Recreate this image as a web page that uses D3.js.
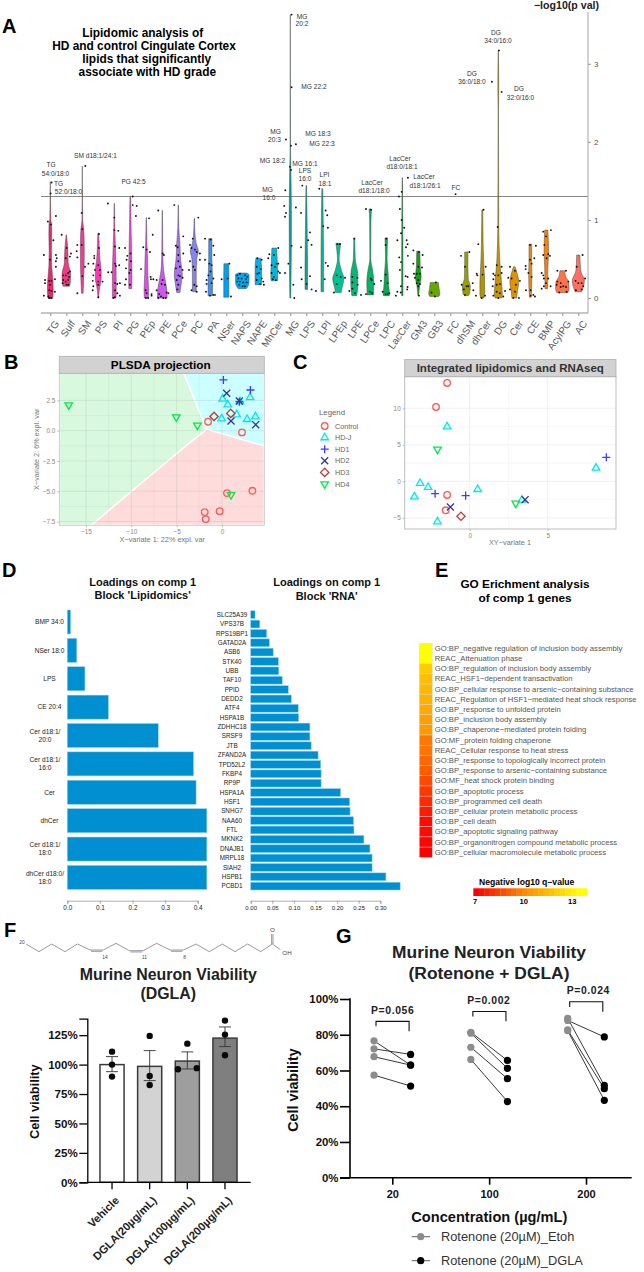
<!DOCTYPE html>
<html>
<head>
<meta charset="utf-8">
<script src="https://cdn.jsdelivr.net/npm/d3@7"></script>
<style>
  body { margin: 0; background: #fff; }
  svg { display: block; }
  text { font-family: "Liberation Sans", Arial, sans-serif; }
</style>
</head>
<body>
<div id="chart"></div>
<script>
// ---- panel A: lipid classes, violin outlines [value, half width], points [jitter, value]
const lipidClasses = ["TG","Sulf","SM","PS","PI","PG","PEp","PE","PCe","PC","PA","NSer","NAPS","NAPE","MhCer","MG","LPS","LPI","LPEp","LPE","LPCe","LPC","LacCer","GM3","GB3","FC","dhSM","dhCer","DG","Cer","CE","BMP","AcylPG","AC"];
const lipidColors = ["#e8286e","#f23a85","#f7379c","#f93cb4","#f53fc8","#ee45dc","#e04ee8","#cc58f0","#a970f0","#8684ee","#3f8ff0","#00a0f0","#00aaf0","#00b0e8","#00b8d8","#00a0a0","#00a898","#00b8a0","#00c098","#00b878","#00b468","#00ae50","#00982c","#14a010","#64a800","#888800","#98a000","#b09400","#c89400","#dc9400","#ec8c10","#ff8000","#ff7448","#ff6e62"];
const lipidViolins = [
  [[1.49,0],[1.3,.01],[1,.03],[.95,.08],[.8,.09],[.6,.07],[.4,.09],[.2,.17],[.1,.18],[0,.15]],
  [[.81,.01],[.6,.1],[.45,.12],[.3,.27],[.2,.25],[.15,.2]],
  [[1.69,0],[1,.02],[.9,.08],[.7,.12],[.5,.12],[.3,.1],[.06,.05]],
  [[.83,.03],[.7,.05],[.5,.1],[.35,.18],[.25,.18],[.1,.06],[0,.02]],
  [[1.21,.01],[.9,.03],[.6,.08],[.4,.11],[.2,.12],[.05,.12],[0,.1]],
  [[1.3,.02],[.9,.05],[.6,.08],[.4,.1],[.2,.1],[.12,.09]],
  [[1.03,.01],[.7,.04],[.5,.08],[.3,.1],[.1,.14],[0,.13]],
  [[1.12,.01],[.6,.03],[.4,.06],[.3,.12],[.15,.25],[.05,.3],[0,.3]],
  [[1.19,.01],[.9,.03],[.7,.1],[.5,.14],[.3,.25],[.18,.18],[.07,.1]],
  [[1.02,.01],[.8,.05],[.7,.12],[.6,.25],[.5,.15],[.3,.12],[.1,.12],[.08,.1]],
  [[.76,.1],[.5,.1],[.3,.13],[.1,.14],[.03,.14]],
  [[.44,.15],[.3,.16],[.1,.16],[.01,.16]],
  [[.32,.25],[.3,.42],[.2,.42],[.12,.25],[.12,.1]],
  [[.51,.15],[.4,.2],[.25,.2],[.17,.2]],
  [[.64,.15],[.4,.2],[.3,.22],[.22,.2]],
  [[3.63,0],[1.95,.01],[1.6,.04],[1,.07],[.5,.06],[0,.03]],
  [[1.44,.02],[.8,.06],[.4,.08],[.11,.08]],
  [[1.4,.03],[.8,.07],[.4,.08],[.08,.08]],
  [[.7,.15],[.62,.1],[.5,.05],[.35,.2],[.25,.35],[.1,.2],[.07,.18]],
  [[.77,.03],[.5,.06],[.3,.22],[.2,.22],[.07,.18],[.03,.15]],
  [[1.14,.08],[1,.04],[.5,.03],[.35,.15],[.2,.22],[.07,.2],[.04,.2]],
  [[.77,.08],[.5,.05],[.3,.12],[.15,.15],[.05,.2],[.03,.18]],
  [[1.54,.01],[1,.03],[.5,.04],[.03,.04]],
  [[.6,.1],[.4,.12],[.27,.18],[.15,.08],[.03,.03]],
  [[.2,.25],[.12,.3],[.05,.35],[.02,.28]],
  [],
  [[.59,.1],[.4,.1],[.25,.12],[.15,.25],[.05,.2],[.03,.12]],
  [[1.13,.03],[.7,.05],[.4,.1],[.2,.15],[.05,.15],[0,.1]],
  [[3.17,.005],[2.7,.03],[2.4,.01],[.9,.03],[.45,.1],[.2,.2],[.05,.25],[0,.2]],
  [[.4,.05],[.3,.2],[.2,.28],[.1,.2],[0,.15]],
  [[.69,.08],[.5,.08],[.3,.1],[.1,.08],[.01,.05]],
  [[.87,.1],[.6,.14],[.4,.1],[.12,.08]],
  [[.35,.15],[.28,.2],[.2,.4],[.12,.42],[.07,.35]],
  [[.55,.1],[.35,.15],[.22,.38],[.15,.32],[.08,.2]]
];
const lipidPoints = [
  [[-.4,.55],[.35,1.05],[.02,1.34],[.08,1.48],[-.15,.98],[.04,.94],[.35,.55],[.4,.51],[.35,.47],[.35,.4],[.19,.74],[-.02,.49],[-.33,.23],[-.33,.19],[-.06,.22],[.08,.22],[.29,.24],[-.02,.17],[.29,.08],[-.4,.03],[-.06,.1],[.08,.09],[-.12,.02],[-.02,0],[.08,0],[-.08,0]],
  [[-.29,.81],[.02,.64],[.29,.57],[.23,.53],[-.04,.51],[.23,.34],[.12,.32],[-.19,.29],[-.02,.29],[.17,.27],[-.19,.23],[-.04,.21],[.12,.23],[-.23,.19],[.02,.17],[.12,.17]],
  [[.19,1.69],[-.04,1.09],[-.35,.6],[-.31,.52],[-.04,.68],[.38,.44],[.17,.4],[0,.28],[-.31,.06],[0,.88],[-.31,.68]],
  [[.04,.82],[-.25,.54],[-.25,.51],[-.31,.44],[.04,.64],[0,.42],[.1,.36],[-.21,.36],[-.31,.29],[.1,.29],[-.35,.22],[0,.21],[.27,.21],[0,.17],[-.31,.15],[-.35,.1],[0,.01]],
  [[-.4,1.21],[0,1.03],[0,.87],[.25,.86],[.04,.66],[.31,.64],[.04,.44],[.1,.41],[.31,.42],[-.17,.33],[-.38,.33],[.04,.19],[.35,.19],[.19,.18],[.04,.1],[.19,.06],[.35,.03],[-.06,0],[.04,.01]],
  [[.15,1.3],[.15,1.19],[.4,1.18],[.35,1.05],[-.33,.64],[.02,.57],[-.19,.54],[-.23,.49],[.04,.47],[-.27,.38],[.02,.36],[-.06,.32],[-.27,.24],[-.33,.17],[-.02,.17]],
  [[.17,1.02],[-.19,.65],[.4,.81],[.02,.62],[.23,.59],[-.33,.37],[.27,.27],[.44,.24],[-.04,.1],[.02,.06],[.33,.05],[.33,.03],[-.02,0],[.12,0]],
  [[-.25,1.12],[.02,.57],[.1,.55],[-.35,.23],[-.71,.24],[.02,.23],[.17,.17],[-.04,.18],[-.35,.1],[-.19,.05],[.27,.07],[.38,.06],[-.08,.02],[.06,0],[-.25,0],[.21,0]],
  [[-.25,1.19],[.31,.79],[-.15,.67],[-.04,.65],[.31,.57],[0,.55],[0,.47],[.1,.4],[-.15,.38],[.27,.36],[0,.29],[.1,.28],[.27,.26],[-.1,.23],[0,.17],[-.06,.11]],
  [[.25,1.03],[-.1,.76],[-.27,.68],[-.17,.64],[.04,.62],[.15,.59],[.35,.57],[-.27,.47],[.35,.49],[-.06,.4],[.04,.36],[-.33,.36],[0,.17],[.15,.15],[-.17,.1],[.15,.08]],
  [[-.33,.76],[-.33,.49],[.02,.75],[.19,.67],[.25,.55],[-.06,.44],[.08,.42],[.02,.34],[-.12,.29],[.19,.25],[-.23,.23],[.08,.19],[-.23,.18],[-.27,.08],[.19,.04],[-.02,.03],[.29,.04]],
  [[.19,.44],[.08,.25],[-.29,.24],[.29,.02]],
  [[-.31,.29],[-.15,.31],[.17,.29],[.31,.27],[-.25,.25],[-.04,.25],[.23,.24],[-.31,.21],[-.15,.21],[.06,.2],[.27,.2],[-.19,.17],[.02,.15],[.17,.15]],
  [[-.06,.51],[.21,.49],[-.1,.4],[.15,.37],[.06,.32],[-.06,.31],[.21,.25],[-.1,.23],[.31,.21],[.1,.18],[.35,.17]],
  [[.25,.64],[-.31,.56],[-.38,.51],[-.02,.55],[.15,.44],[.25,.44],[-.17,.42],[.04,.4],[.25,.34],[-.17,.32],[-.02,.27],[.1,.23],[-.1,.24],[.35,.32]],
  [[.08,3.63],[.08,2.7],[-.27,2.03],[.35,1.97],[.04,1.95],[-.02,1.68],[.04,1.64],[-.31,1.38],[-.38,1.18],[-.27,1.09],[-.33,1.04],[.35,1.16],[.08,.67],[-.12,.44],[.19,.17],[.25,0],[-.33,.32]],
  [[-.25,1.44],[-.33,1.09],[.23,.84],[.12,.74],[.33,.68],[-.33,.65],[-.33,.39],[-.29,.24],[.23,.28],[.02,.18],[.33,.11],[.6,.09]],
  [[-.19,1.4],[.21,1.12],[.31,1.06],[.06,.92],[.35,.9],[.21,.45],[.35,.41],[.15,.24]],
  [[-.06,.69],[.1,.69],[-.1,.29],[.15,.27],[.42,.26],[-.1,.18],[-.27,.07]],
  [[0,.76],[-.12,.27],[.19,.26],[-.12,.2],[.21,.17],[-.12,.12],[-.31,.09],[.04,.06],[.42,.04]],
  [[-.27,1.14],[.04,1.13],[.04,.25],[.08,.23],[.25,.18],[-.02,.08],[.12,.06],[-.27,.05]],
  [[0,.76],[-.04,.68],[-.04,.3],[-.33,.22],[.08,.19],[-.23,.08],[-.04,.05],[.08,.05],[.19,.06]],
  [[.35,1.54],[-.04,1.36],[-.21,1.3],[-.15,1.14],[-.04,1],[-.08,.83],[.12,.9],[-.31,.74],[.27,.74],[.33,.69],[.23,.65],[-.19,.52],[.35,.54],[-.08,.46],[-.15,.36],[.33,.27],[.21,.28],[-.08,.15],[.33,.14],[.31,.11],[-.31,.08],[-.1,.07],[-.4,.03]],
  [[-.31,.61],[.04,.59],[.27,.55],[-.31,.44],[0,.4],[.23,.39],[-.27,.31],[-.1,.31],[.1,.31],[-.21,.26],[0,.23],[-.1,.19],[.1,.18],[0,.15],[.04,.03]],
  [[.1,.2],[-.17,.07],[.04,.02]],
  [[.33,1.33]],
  [[-.33,.54],[.19,.59],[-.08,.4],[-.29,.17],[.02,.15],[.12,.15],[.4,.19],[-.15,.11],[.44,.1],[-.08,.04]],
  [[.08,1.13],[-.25,.69],[-.35,.31],[-.31,.29],[.21,.4],[.02,.3],[-.4,.03],[-.04,0],[.17,.03]],
  [[.04,3.17],[-.4,2.77],[.21,2.64],[-.04,.91],[-.1,.42],[.21,.4],[-.31,.31],[-.21,.29],[0,.29],[.21,.32],[-.31,.24],[-.1,.17],[.1,.18],[-.35,.15],[.42,.09],[-.1,.08],[.1,.06],[-.31,.03],[0,0],[.31,.02]],
  [[-.27,.4],[.04,.35],[-.38,.26],[-.17,.25],[.35,.22],[.1,.17],[-.27,.11],[.04,.08],[-.06,0],[.29,0]],
  [[-.02,.68],[.35,.67],[-.02,.49],[.25,.51],[-.29,.41],[.08,.44],[-.29,.37],[-.12,.32],[.08,.27],[-.27,.1],[.02,.1],[.19,.04],[.02,.03],[.29,.02]],
  [[.29,.87],[-.19,.85],[-.02,.79],[-.12,.68],[-.19,.55],[.12,.56],[.23,.54],[.02,.51],[-.29,.32],[-.19,.29],[-.15,.25],[.12,.25],[-.02,.19],[-.15,.15],[.27,.15],[-.29,.12]],
  [[-.31,.35],[.23,.35],[-.31,.21],[-.1,.19],[.38,.21],[-.35,.17],[.06,.15],[-.1,.14],[.23,.14],[.27,.08],[-.19,.07]],
  [[.27,.55],[-.1,.4],[-.17,.22],[.42,.25],[0,.19],[.21,.19],[.31,.15],[-.15,.1],[.21,.11]]
];
const pValueTicks = [0, 1, 2, 3];
const significanceLine = 1.3;

// ---- panels B and C: groups and scores
const groupNames = ["Control","HD-J","HD1","HD2","HD3","HD4"];
const groupColors = ["#ff5a5a","#00e6f0","#3c3cff","#34349a","#b83c3c","#00e84a"];
const plsdaScores = [
  [[-1.54,.74],[2.2,-.14],[.55,-5.15],[3.35,-4.96],[-.26,-6.64],[-1.91,-6.72],[-1.8,-7.3]],
  [[.07,2.62],[.63,2.15],[1.99,2.4],[3.09,2.75],[-.04,.99],[1.62,1.32],[2.76,.94],[3.68,1.16]],
  [[.15,4.19],[1.91,2.4],[3.13,3.36]],
  [[.51,3.09],[1.91,2.45],[.99,.8],[3.71,.5]],
  [[-.88,1.18],[.96,1.43]],
  [[-16.9,2.12],[-5.04,1.13],[-2.72,.44],[.99,-5.29]]
];
const integratedScores = [
  [[-1.45,13.47],[-2.16,10.18],[-1.45,-1.87],[-1.54,-3.97]],
  [[-1.45,7.49],[-3.18,-.27],[-2.67,-.82],[-3.55,-2.1],[-2.07,-5.53],[.51,-1.1],[3.35,-2.56],[8.1,1.83]],
  [[-2.22,-1.69],[-.26,-1.96],[8.76,3.29]],
  [[-1.24,-3.52],[3.55,-2.51]],
  [[-.56,-4.79]],
  [[-2.07,4.38],[2.95,-3.01]]
];
const plsdaRegions = [
  {fill:"#d9f9df", pts:[[-17.94,4.74],[-4.19,4.74],[-1.69,.11],[-4.08,-1.32],[-10.33,-5.23],[-14.4,-7.81],[-17.94,-7.81]]},
  {fill:"#ccffff", pts:[[-4.19,4.74],[4.66,4.74],[4.66,-1.27],[.51,-.36],[-1.69,.11]]},
  {fill:"#ffdcdc", pts:[[-1.69,.11],[.51,-.36],[4.66,-1.27],[4.66,-7.81],[-14.4,-7.81],[-10.33,-5.23],[-4.08,-1.32]]}
];

// ---- panel D
const lipidLoadingNames = [["BMP 34:0"],["NSer 18:0"],["LPS"],["CE 20:4"],["Cer d18:1/","20:0"],["Cer d18:1/","16:0"],["Cer"],["dhCer"],["Cer d18:1/","18:0"],["dhCer d18:0/","18:0"]];
const lipidLoadings = [.01,.029,.054,.126,.279,.387,.395,.428,.428,.428];
const geneNames = ["SLC25A39","VPS37B","RPS19BP1","GATAD2A","ASB6","STK40","UBB","TAF10","PPID","DEDD2","ATF4","HSPA1B","ZDHHC18","SRSF9","JTB","ZFAND2A","TPD52L2","FKBP4","RP9P","HSPA1A","HSF1","SNHG7","NAA60","FTL","MKNK2","DNAJB1","MRPL18","SIAH2","HSPB1","PCBD1"];
const geneLoadings = [.01,.021,.037,.043,.052,.064,.065,.073,.087,.094,.11,.111,.137,.137,.14,.156,.162,.163,.163,.208,.229,.23,.238,.239,.262,.276,.281,.281,.313,.346];

// ---- panel E
const goTerms = ["GO:BP_negative regulation of inclusion body assembly","REAC_Attenuation phase","GO:BP_regulation of inclusion body assembly","REAC_HSF1\u2212dependent transactivation","GO:BP_cellular response to arsenic\u2212containing substance","REAC_Regulation of HSF1\u2212mediated heat shock response","GO:BP_response to unfolded protein","GO:BP_inclusion body assembly","GO:BP_chaperone\u2212mediated protein folding","GO:MF_protein folding chaperone","REAC_Cellular response to heat stress","GO:BP_response to topologically incorrect protein","GO:BP_response to arsenic\u2212containing substance","GO:MF_heat shock protein binding","GO:BP_apoptotic process","GO:BP_programmed cell death","GO:BP_cellular protein metabolic process","GO:BP_cell death","GO:BP_apoptotic signaling pathway","GO:BP_organonitrogen compound metabolic process","GO:BP_cellular macromolecule metabolic process"];
const goQValues = [13.5,13.4,11.9,11.5,11.3,11.1,10.9,10.6,10.4,9.6,9.5,9.2,9,8.6,8.2,7.9,7.6,7.2,7.2,7.1,7];
const qLegendSteps = [7,7.33,7.67,8,8.33,8.67,9,9.33,9.67,10,10.33,10.67,11,11.33,11.67,12,12.33,12.67,13,13.33,13.67];
const qLegendTicks = [7,10,13];

// ---- panel F
const viabilityNames = ["Vehicle","DGLA(20\u00b5g/mL)","DGLA(100\u00b5g/mL)","DGLA(200\u00b5g/mL)"];
const viabilityMeans = [100,98.5,103,122.5];
const viabilityErrLow = [94,86.4,96.3,115.3];
const viabilityErrHigh = [106.8,111.9,110.8,132];
const viabilityFills = ["#ffffff","#d3d3d3","#9e9e9e","#7f7f7f"];
const viabilityReplicates = [[[0,111],[0,100],[0,89.8]],[[0,124.4],[0,90.4],[0,82.7]],[[0,117.8],[-.39,96],[.39,97]],[[0,137.4],[0,125.5],[0,108]]];
const viabilityTicks = [0,25,50,75,100,125];

// ---- panel G: paired wells, one row per pair [Etoh, DGLA]
const doseLabels = ["20","100","200"];
const pairedViability = [
  [[76.6,63],[72.1,69],[67.7,63],[57.4,51.3]],
  [[81.4,65.6],[80.9,61.2],[73,55.4],[66.2,42.6]],
  [[88,78.8],[89.2,51.7],[82.7,49.8],[82.3,43.3]]
];
const pairPValues = ["P=0.056","P=0.002","P=0.024"];
const bracketTop = [87.5,93,98.5];
const bracketLeftEnd = [84.7,90.2,95.5];
const bracketRightEnd = [82,87.5,92.8];
const pairTicks = [0,20,40,60,80,100];

// ---- DGLA skeleton, atom positions are the drawing itself, not data
const dglaAtoms = [[33,72],[72,95],[110,72],[150,95],[187,72],[225,90],[265,90],[303,70],[343,92],[385,92],[425,70],[465,90],[505,90],[543,72],[583,95],[622,72],[660,95],[698,72],[737,95],[772,72]];

const svg = d3.select("#chart").append("svg").attr("width", 644).attr("height", 1272);

function label(parent, str, x, y, size, opts) {
  const o = opts || {};
  return parent.append("text")
    .attr("x", x).attr("y", y)
    .attr("font-size", size)
    .attr("font-weight", o.weight || "normal")
    .attr("text-anchor", o.anchor || "start")
    .attr("fill", o.fill || "#000")
    .attr("letter-spacing", o.spacing || null)
    .attr("transform", o.rotate ? `rotate(${o.rotate} ${x} ${y})` : null)
    .text(str);
}

// panel letters
[["A",2,33],["B",4,369],["C",293,369],["D",2,577],["E",435,577],["F",4,937],["G",336,943]].forEach(d => {
  label(svg, d[0], d[1], d[2], 20, {weight:"bold"});
});

function drawLipidViolins() {
  const g = svg.append("g");
  const x = d3.scalePoint().domain(lipidClasses).range([50.3, 578.3]);
  const y = d3.scaleLinear().domain([0, 3]).range([298, 63.8]);
  const step = x.step();

  ["Lipidomic analysis of","HD and control Cingulate Cortex","lipids that significantly","associate with HD grade"].forEach((t, i) => {
    label(g, t, [142.7,144,146.7,147.3][i], [36.7,49.6,63.3,76][i], 11.9, {weight:"bold", anchor:"middle"});
  });
  label(g, "\u2212log10(p val)", 599, 9, 10.6, {weight:"bold", anchor:"end", fill:"#222"});

  const area = d3.area()
    .y(d => y(d[0]))
    .x0(d => -d[1] * step)
    .x1(d => d[1] * step)
    .curve(d3.curveMonotoneY);

  lipidClasses.forEach((c, i) => {
    if (!lipidViolins[i].length) return;
    g.append("path")
      .attr("transform", `translate(${x(c)},0)`)
      .attr("d", area(lipidViolins[i]))
      .attr("fill", lipidColors[i])
      .attr("stroke", "#4a4a4a")
      .attr("stroke-width", 0.5);
  });

  g.append("line")
    .attr("x1", 41).attr("x2", 588)
    .attr("y1", y(significanceLine)).attr("y2", y(significanceLine))
    .attr("stroke", "#555").attr("stroke-width", 0.7);

  lipidClasses.forEach((c, i) => {
    g.selectAll(null).data(lipidPoints[i]).enter().append("circle")
      .attr("cx", d => x(c) + d[0] * step)
      .attr("cy", d => y(d[1]))
      .attr("r", 0.95)
      .attr("fill", "#111");
  });

  // class axis
  const xAxis = g.append("g").attr("transform", "translate(0,313)")
    .call(d3.axisBottom(x).tickSize(3).tickPadding(2));
  xAxis.select(".domain").attr("d", "M41,0H588").attr("stroke", "#b5b5b5").attr("stroke-width", 1.4);
  xAxis.selectAll(".tick line").attr("stroke", "#999");
  xAxis.selectAll(".tick text")
    .attr("font-size", 10).attr("fill", "#5a5a5a").attr("font-family", null)
    .attr("text-anchor", "end")
    .attr("x", 0).attr("y", 0).attr("dy", "0.35em")
    .attr("transform", "translate(6,8.5) rotate(-55)");

  const yAxis = g.append("g").attr("transform", "translate(588,0)")
    .call(d3.axisRight(y).tickValues(pValueTicks).tickSize(3).tickPadding(3).tickFormat(d3.format("d")));
  yAxis.select(".domain").attr("d", "M0,12V313").attr("stroke", "#b5b5b5").attr("stroke-width", 1.2);
  yAxis.selectAll(".tick line").attr("stroke", "#999");
  yAxis.selectAll(".tick text").attr("font-size", 8).attr("fill", "#555").attr("font-family", null);

  // named lipids next to their points
  const names = [
    ["TG",51,167],["54:0/18:0",55.5,175.5],["TG",58.5,186],["52:0/18:0",68.5,194],["SM d18:1/24:1",95.5,158],["PG 42:5",133.5,184],
    ["MG",275.5,134],["20:3",274.5,142],["MG 18:2",272.5,163],["MG",267.5,191.5],["16:0",269,199.5],
    ["MG",302,19],["20:2",302,26],["MG 22:2",314,89],["MG 18:3",318,136],["MG 22:3",322,146],["MG 16:1",305,166],["LPS",305,173],["16:0",305,181],
    ["LPI",324.5,177],["18:1",325,185.5],["LacCer",372,184.5],["d18:1/18:0",374,192.5],["LacCer",400,161],["d18:0/18:1",402,169],["LacCer",424,179],["d18:1/26:1",425,187.5],
    ["FC",456,190],["DG",496,35],["34:0/16:0",498,43],["DG",472,76],["36:0/18:0",472,84],["DG",519,91],["32:0/16:0",520.5,99.5]
  ];
  names.forEach(n => label(g, n[0], n[1], n[2], 6.6, {anchor:"middle", fill:"#333"}));
}

function symbolPath(i) {
  const types = [d3.symbolCircle, d3.symbolTriangle2, d3.symbolPlus, d3.symbolTimes, d3.symbolDiamond2, d3.symbolTriangle2];
  const sizes = [34, 40, 23, 34, 44, 40];
  return d3.symbol().type(types[i]).size(sizes[i])();
}

function drawMarkers(g, i, pts, x, y) {
  g.selectAll(null).data(pts).enter().append("path")
    .attr("d", symbolPath(i))
    .attr("transform", d => `translate(${x(d[0])},${y(d[1])})` + (i === 5 ? " rotate(180)" : ""))
    .attr("fill", "none")
    .attr("stroke", groupColors[i])
    .attr("stroke-width", 1.3);
}

function gridAndFrame(g, x, y, xt, yt, x0, x1, y0, y1, gridColor) {
  const mids = t => t.slice(1).map((d, k) => (d + t[k]) / 2);
  g.selectAll(null).data(mids(xt)).enter().append("line")
    .attr("x1", d => x(d)).attr("x2", d => x(d)).attr("y1", y0).attr("y2", y1)
    .attr("stroke", gridColor).attr("stroke-width", 0.4);
  g.selectAll(null).data(mids(yt)).enter().append("line")
    .attr("y1", d => y(d)).attr("y2", d => y(d)).attr("x1", x0).attr("x2", x1)
    .attr("stroke", gridColor).attr("stroke-width", 0.4);
  g.selectAll(null).data(xt).enter().append("line")
    .attr("x1", d => x(d)).attr("x2", d => x(d)).attr("y1", y0).attr("y2", y1)
    .attr("stroke", gridColor).attr("stroke-width", 0.8);
  g.selectAll(null).data(yt).enter().append("line")
    .attr("y1", d => y(d)).attr("y2", d => y(d)).attr("x1", x0).attr("x2", x1)
    .attr("stroke", gridColor).attr("stroke-width", 0.8);
}

function styleGgAxis(a) {
  a.select(".domain").remove();
  a.selectAll(".tick line").attr("stroke", "#999").attr("stroke-width", 0.6);
  a.selectAll(".tick text").attr("font-size", 6.4).attr("fill", "#888").attr("font-family", null);
}

function drawPlsda() {
  const g = svg.append("g");
  const x = d3.scaleLinear().domain([-17.94, 4.66]).range([59.3, 264.3]);
  const y = d3.scaleLinear().domain([-7.81, 4.74]).range([525.3, 373.3]);
  const line = d3.line().x(d => x(d[0])).y(d => y(d[1]));

  plsdaRegions.forEach(r => {
    g.append("path").attr("d", line(r.pts) + "Z").attr("fill", r.fill)
      .attr("stroke", "#fff").attr("stroke-width", 1.5);
  });
  gridAndFrame(g, x, y, [-15,-10,-5,0], [-7.5,-5,-2.5,0,2.5], 59.3, 264.3, 373.3, 525.3, "rgba(150,170,160,.28)");

  g.append("rect").attr("x", 59.3).attr("y", 373.3).attr("width", 205).attr("height", 152)
    .attr("fill", "none").attr("stroke", "#c4c4c4").attr("stroke-width", 0.8);
  g.append("rect").attr("x", 59.3).attr("y", 356.3).attr("width", 205).attr("height", 17)
    .attr("fill", "#d2d2d2").attr("stroke", "#b0b0b0").attr("stroke-width", 0.8);
  label(g, "PLSDA projection", 160.7, 368.6, 11.8, {weight:"bold", anchor:"middle"});

  groupNames.forEach((n, i) => drawMarkers(g, i, plsdaScores[i], x, y));

  const ax = g.append("g").attr("transform", "translate(0,525.3)")
    .call(d3.axisBottom(x).tickValues([-15,-10,-5,0]).tickSize(2).tickPadding(2).tickFormat(d => d === 0 ? "0" : "\u2212" + Math.abs(d)));
  styleGgAxis(ax);
  const ay = g.append("g").attr("transform", "translate(59.3,0)")
    .call(d3.axisLeft(y).tickValues([-7.5,-5,-2.5,0,2.5]).tickSize(2).tickPadding(2).tickFormat(d => (d < 0 ? "\u2212" : "") + Math.abs(d).toFixed(1)));
  styleGgAxis(ay);

  label(g, "X\u2212variate 1: 22% expl. var", 162.3, 541.5, 7.3, {anchor:"middle", fill:"#777"});
  label(g, "X\u2212variate 2: 6% expl. var", 39.5, 449.3, 7.3, {anchor:"middle", fill:"#777", rotate:-90});
}

function drawIntegrated() {
  const g = svg.append("g");
  const x = d3.scaleLinear().domain([-4.17, 9.38]).range([404.7, 616]);
  const y = d3.scaleLinear().domain([-6.53, 14.33]).range([529, 376.7]);

  gridAndFrame(g, x, y, [0,5], [-5,0,5,10], 404.7, 616, 376.7, 529, "#ececec");
  g.append("rect").attr("x", 404.7).attr("y", 376.7).attr("width", 211.3).attr("height", 152.3)
    .attr("fill", "none").attr("stroke", "#bdbdbd").attr("stroke-width", 1);
  g.append("rect").attr("x", 404.7).attr("y", 359.5).attr("width", 211.3).attr("height", 17.2)
    .attr("fill", "#d2d2d2").attr("stroke", "#b0b0b0").attr("stroke-width", 0.8);
  label(g, "Integrated lipidomics and RNAseq", 510.3, 371.8, 11.5, {weight:"bold", anchor:"middle", fill:"#333"});

  groupNames.forEach((n, i) => drawMarkers(g, i, integratedScores[i], x, y));

  const ax = g.append("g").attr("transform", "translate(0,529)")
    .call(d3.axisBottom(x).tickValues([0,5]).tickSize(2).tickPadding(2));
  styleGgAxis(ax);
  const ay = g.append("g").attr("transform", "translate(404.7,0)")
    .call(d3.axisLeft(y).tickValues([-5,0,5,10]).tickSize(2).tickPadding(2).tickFormat(d => (d < 0 ? "\u2212" : "") + Math.abs(d)));
  styleGgAxis(ay);
  label(g, "XY\u2212variate 1", 510, 545, 7.3, {anchor:"middle", fill:"#777"});

  // legend
  label(g, "Legend", 319, 415, 7.8, {fill:"#666"});
  const rowY = d3.scalePoint().domain(groupNames).range([426, 484]);
  groupNames.forEach((n, i) => {
    const yy = rowY(n);
    g.append("path")
      .attr("d", symbolPath(i))
      .attr("transform", `translate(324.7,${yy})` + (i === 5 ? " rotate(180)" : ""))
      .attr("fill", "none").attr("stroke", groupColors[i]).attr("stroke-width", 1.3);
    label(g, n, 335, yy + 2.5, 7.2, {fill:"#666"});
  });
}

function loadingBars(names, values, xScale, top, bottom, padding) {
  const g = svg.append("g");
  const keys = names.map((d, i) => i);
  const y = d3.scaleBand().domain(keys).range([top, bottom]).paddingInner(padding).paddingOuter(padding / 2);
  g.selectAll("rect").data(values).enter().append("rect")
    .attr("x", xScale(0))
    .attr("y", (d, i) => y(i))
    .attr("width", d => xScale(d) - xScale(0))
    .attr("height", y.bandwidth())
    .attr("fill", "#0090d2")
    .attr("stroke", "#8fcdec")
    .attr("stroke-width", 0.5);
  return {g, y};
}

function drawLoadings() {
  // lipid block
  const xl = d3.scaleLinear().domain([0, .4]).range([67.3, 197.7]);
  const left = loadingBars(lipidLoadingNames, lipidLoadings, xl, 607.8, 891.6, 0.155);
  lipidLoadingNames.forEach((n, i) => {
    const cy = left.y(i) + left.y.bandwidth() / 2;
    if (n.length === 1) {
      label(left.g, n[0], 49.5, cy + 2.3, 6.6, {anchor:"middle", fill:"#222"});
    } else {
      label(left.g, n[0], 45, cy - 1.8, 6.6, {anchor:"middle", fill:"#222"});
      label(left.g, n[1], 45, cy + 6.2, 6.6, {anchor:"middle", fill:"#222"});
    }
  });
  const axl = left.g.append("g").attr("transform", "translate(0,900.7)")
    .call(d3.axisBottom(xl).tickValues([0,.1,.2,.3,.4]).tickSize(3).tickPadding(2).tickFormat(d3.format(".1f")));
  axl.selectAll("path,line").attr("stroke", "#777").attr("stroke-width", 0.6);
  axl.selectAll(".tick text").attr("font-size", 6.4).attr("fill", "#222").attr("font-family", null);
  label(left.g, "Loadings on comp 1", 142.7, 585.8, 11, {weight:"bold", anchor:"middle", fill:"#111"});
  label(left.g, "Block 'Lipidomics'", 142.7, 599.2, 11, {weight:"bold", anchor:"middle", fill:"#111"});

  // gene block
  const xr = d3.scaleLinear().domain([0, .3]).range([250.7, 380.3]);
  const right = loadingBars(geneNames, geneLoadings, xr, 610, 890.8, 0.17);
  geneNames.forEach((n, i) => {
    label(right.g, n, 232, right.y(i) + right.y.bandwidth() / 2 + 2.1, 6.3, {anchor:"middle", fill:"#222"});
  });
  const axr = right.g.append("g").attr("transform", "translate(0,900.7)")
    .call(d3.axisBottom(xr).tickValues([0,.05,.1,.15,.2,.25,.3]).tickSize(3).tickPadding(2).tickFormat(d3.format(".2f")));
  axr.selectAll("path,line").attr("stroke", "#777").attr("stroke-width", 0.6);
  axr.selectAll(".tick text").attr("font-size", 6).attr("fill", "#222").attr("font-family", null);
  label(right.g, "Loadings on comp 1", 326.7, 586, 11, {weight:"bold", anchor:"middle", fill:"#111"});
  label(right.g, "Block 'RNA'", 326.7, 600, 11, {weight:"bold", anchor:"middle", fill:"#111"});
}

function drawEnrichment() {
  const g = svg.append("g");
  const color = d3.scaleLinear().domain([7, 10, 13.4]).range(["#ff0000", "#ff8c00", "#ffff00"]);
  const y = d3.scaleBand().domain(goTerms).range([643.3, 857.3]);

  label(g, "GO Erichment analysis", 525, 587.8, 11.8, {weight:"bold", anchor:"middle"});
  label(g, "of comp 1 genes", 525, 601.5, 11.8, {weight:"bold", anchor:"middle"});

  g.selectAll("rect").data(goTerms).enter().append("rect")
    .attr("x", 419.3).attr("y", d => y(d))
    .attr("width", 13).attr("height", y.bandwidth())
    .attr("fill", (d, i) => color(goQValues[i]))
    .attr("stroke", "#d8d8d8").attr("stroke-width", 0.4);
  goTerms.forEach(t => {
    label(g, t, 434.7, y(t) + y.bandwidth() / 2 + 2.5, 7.7, {fill:"#555"});
  });

  label(g, "Negative log10 q\u2212value", 526.7, 885, 8.6, {weight:"bold", anchor:"middle"});
  const lx = d3.scaleLinear().domain([7, 13]).range([475, 572.3]);
  const w = lx(qLegendSteps[1]) - lx(qLegendSteps[0]);
  g.selectAll(null).data(qLegendSteps).enter().append("rect")
    .attr("x", d => lx(d) - 1.7).attr("y", 888.3)
    .attr("width", w + 0.4).attr("height", 7.7)
    .attr("fill", d => color(d));
  qLegendTicks.forEach(t => label(g, t, lx(t), 904, 7.6, {weight:"bold", anchor:"middle"}));
}

function drawMolecule() {
  const g = svg.append("g").attr("fill", "none").attr("stroke", "#555").attr("stroke-width", 0.6);
  const px = d => 15 + d[0] / 3, py = d => 920 + d[1] / 3;
  g.append("path").attr("d", d3.line().x(px).y(py)(dglaAtoms));
  // the three double bonds plus the carbonyl and hydroxyl bonds
  [[5,6],[8,9],[11,12]].forEach(b => {
    g.append("line")
      .attr("x1", px(dglaAtoms[b[0]]) + 1).attr("x2", px(dglaAtoms[b[1]]) - 1)
      .attr("y1", py(dglaAtoms[b[0]]) + 1.3).attr("y2", py(dglaAtoms[b[1]]) + 1.3);
  });
  const c = dglaAtoms[19];
  g.append("line").attr("x1", px(c) - 0.7).attr("x2", px(c) - 0.7).attr("y1", py(c)).attr("y2", py(c) - 10);
  g.append("line").attr("x1", px(c) + 0.7).attr("x2", px(c) + 0.7).attr("y1", py(c)).attr("y2", py(c) - 10);
  g.append("line").attr("x1", px(c)).attr("x2", px(c) + 8).attr("y1", py(c)).attr("y2", py(c) + 5.5);
  [["20",22,944],["14",105,958.5],["11",144.5,958.5],["8",184.5,958.5],["O",272.5,932],["OH",287,954.5]].forEach(t => {
    label(svg, t[0], t[1], t[2], t[0].length === 1 && t[0] !== "8" || t[0] === "OH" ? 6.2 : 4.8, {anchor:"middle", fill:"#444"});
  });
}

function drawViability() {
  const g = svg.append("g");
  const x = d3.scaleBand().domain(viabilityNames).range([93.2, 243.8]).paddingInner(0.36).paddingOuter(0.18);
  const y = d3.scaleLinear().domain([0, 139]).range([1182.3, 1018.7]);
  const inkStroke = "#3a3a3a";
  label(g, "Murine Neuron Viability", 168.3, 980, 15.9, {weight:"bold", anchor:"middle", fill:"#222"});
  label(g, "(DGLA)", 168.3, 998.5, 15.9, {weight:"bold", anchor:"middle", fill:"#222"});

  const cx = n => x(n) + x.bandwidth() / 2;
  g.selectAll("rect").data(viabilityNames).enter().append("rect")
    .attr("x", d => x(d)).attr("width", x.bandwidth())
    .attr("y", (d, i) => y(viabilityMeans[i]))
    .attr("height", (d, i) => y(0) - y(viabilityMeans[i]))
    .attr("fill", (d, i) => viabilityFills[i])
    .attr("stroke", inkStroke).attr("stroke-width", 1.5);

  viabilityNames.forEach((n, i) => {
    const eg = g.append("g").attr("stroke", "#333").attr("stroke-width", 0.9);
    eg.append("line").attr("x1", cx(n)).attr("x2", cx(n)).attr("y1", y(viabilityErrLow[i])).attr("y2", y(viabilityErrHigh[i]));
    [viabilityErrLow[i], viabilityErrHigh[i]].forEach(v => {
      eg.append("line").attr("x1", cx(n) - 6).attr("x2", cx(n) + 6).attr("y1", y(v)).attr("y2", y(v));
    });
    g.selectAll(null).data(viabilityReplicates[i]).enter().append("circle")
      .attr("cx", d => cx(n) + d[0] * x.bandwidth())
      .attr("cy", d => y(d[1]))
      .attr("r", 3.2).attr("fill", "#0a0a0a");
  });

  const ay = g.append("g").attr("transform", "translate(87.3,0)")
    .call(d3.axisLeft(y).tickValues(viabilityTicks).tickSize(8).tickPadding(1.5).tickFormat(d => d + "%"));
  ay.select(".domain").attr("stroke", "#000").attr("stroke-width", 1.3);
  ay.selectAll(".tick line").attr("stroke", "#000").attr("stroke-width", 1.3);
  ay.selectAll(".tick text").attr("font-size", 11.6).attr("font-weight", "bold").attr("font-family", null).attr("fill", "#111");

  const ax = g.append("g").attr("transform", "translate(0,1182.3)")
    .call(d3.axisBottom(x).tickSize(7).tickPadding(4));
  ax.select(".domain").attr("d", "M87.3,0H250.7").attr("stroke", "#000").attr("stroke-width", 1.3);
  ax.selectAll(".tick line").attr("stroke", "#000").attr("stroke-width", 1.3);
  ax.selectAll(".tick text").attr("font-size", 11.2).attr("font-weight", "bold").attr("font-family", null).attr("fill", "#222")
    .attr("text-anchor", "end").attr("x", 0).attr("y", 0).attr("dy", "0.35em")
    .attr("transform", "translate(5,16) rotate(-45)");

  label(g, "Cell viability", 39.5, 1101.7, 12.8, {weight:"bold", anchor:"middle", rotate:-90, fill:"#111"});
}

function drawPaired() {
  const g = svg.append("g");
  const x = d3.scalePoint().domain(doseLabels).range([392.3, 586]);
  const y = d3.scaleLinear().domain([0, 100]).range([1177.7, 999]);
  const offset = 18.3;
  const etohColor = "#8c8c8c";

  label(g, "Murine Neuron Viability", 489, 958.3, 17.4, {weight:"bold", anchor:"middle", fill:"#222"});
  label(g, "(Rotenone + DGLA)", 489, 979.3, 17.4, {weight:"bold", anchor:"middle", fill:"#222"});

  doseLabels.forEach((d, i) => {
    const x0 = x(d) - offset, x1 = x(d) + offset;
    pairedViability[i].forEach(p => {
      g.append("line").attr("x1", x0).attr("x2", x1).attr("y1", y(p[0])).attr("y2", y(p[1]))
        .attr("stroke", "#222").attr("stroke-width", 0.9);
    });
    g.selectAll(null).data(pairedViability[i]).enter().append("circle")
      .attr("cx", x0).attr("cy", p => y(p[0])).attr("r", 3.6).attr("fill", etohColor);
    g.selectAll(null).data(pairedViability[i]).enter().append("circle")
      .attr("cx", x1).attr("cy", p => y(p[1])).attr("r", 3.6).attr("fill", "#000");
    g.append("path")
      .attr("d", d3.line()([[x0 + 2, y(bracketLeftEnd[i])], [x0 + 2, y(bracketTop[i])], [x1 - 1.5, y(bracketTop[i])], [x1 - 1.5, y(bracketRightEnd[i])]]))
      .attr("fill", "none").attr("stroke", "#111").attr("stroke-width", 1.1);
    label(g, pairPValues[i], x(d) + [.4, -.3, 2.3][i], y(bracketTop[i]) - 7.6, 10.4, {weight:"bold", anchor:"middle", fill:"#222", spacing:0.6});
  });

  const ay = g.append("g").attr("transform", "translate(350,0)")
    .call(d3.axisLeft(y).tickValues(pairTicks).tickSize(10).tickPadding(1.5).tickFormat(d => d + "%"));
  ay.select(".domain").attr("d", "M0,998.3V1177.7").attr("stroke", "#000").attr("stroke-width", 1.6);
  ay.selectAll(".tick line").attr("stroke", "#000").attr("stroke-width", 1.6);
  ay.selectAll(".tick text").attr("font-size", 11.4).attr("font-weight", "bold").attr("font-family", null).attr("fill", "#111");

  const ax = g.append("g").attr("transform", "translate(0,1177.7)")
    .call(d3.axisBottom(x).tickSize(7).tickPadding(6));
  ax.select(".domain").attr("d", "M340,0H631.7").attr("stroke", "#000").attr("stroke-width", 1.6);
  ax.selectAll(".tick line").attr("stroke", "#000").attr("stroke-width", 1.6);
  ax.selectAll(".tick text").attr("font-size", 11).attr("font-weight", "bold").attr("font-family", null).attr("fill", "#111");

  label(g, "Cell viability", 298, 1090, 14.3, {weight:"bold", anchor:"middle", rotate:-90, fill:"#111"});
  label(g, "Concentration (\u00b5g/mL)", 489.3, 1221.7, 14.6, {weight:"bold", anchor:"middle", fill:"#111"});

  [["Rotenone (20\u00b5M)_Etoh", etohColor, 1236.7], ["Rotenone (20\u00b5M)_DGLA", "#000", 1260.7]].forEach(l => {
    g.append("line").attr("x1", 411.7).attr("x2", 430).attr("y1", l[2]).attr("y2", l[2]).attr("stroke", "#333").attr("stroke-width", 0.8);
    g.append("circle").attr("cx", 420.7).attr("cy", l[2]).attr("r", 3.6).attr("fill", l[1]);
    label(g, l[0], 441, l[2] + 4, 12.8, {fill:"#333"});
  });
}

drawLipidViolins();
drawPlsda();
drawIntegrated();
drawLoadings();
drawEnrichment();
drawMolecule();
drawViability();
drawPaired();
</script>
</body>
</html>
